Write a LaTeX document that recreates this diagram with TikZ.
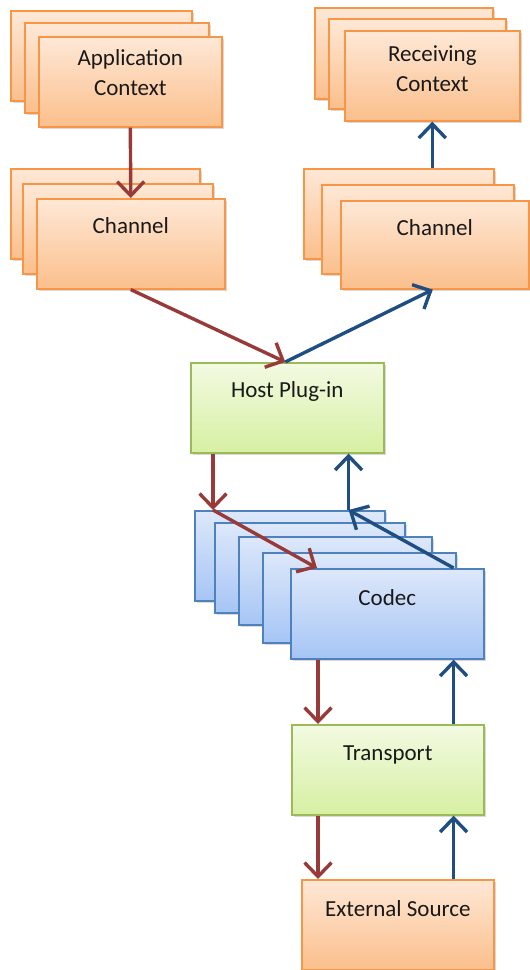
\documentclass[tikz,border=0pt]{standalone}
\usepackage{fontspec}
\setmainfont{Carlito}
\usetikzlibrary{arrows.meta,shadows}
\definecolor{orBd}{HTML}{F79646}
\definecolor{orTop}{HTML}{FEE8D6}
\definecolor{orBot}{HTML}{FBBF8C}
\definecolor{grBd}{HTML}{9BBB59}
\definecolor{grTop}{HTML}{F3FAE2}
\definecolor{grBot}{HTML}{D6F0A2}
\definecolor{blBd}{HTML}{4F81BD}
\definecolor{blTop}{HTML}{DDE8FA}
\definecolor{blBot}{HTML}{A6C5F5}
\definecolor{arRed}{HTML}{983A38}
\definecolor{arBlue}{HTML}{1F4E83}
\tikzset{
  box/.style={rectangle, inner sep=0pt, line width=1.6pt, anchor=north west,
    drop shadow={shadow xshift=1.8pt, shadow yshift=-2pt, opacity=0.3}},
  obox/.style={box, draw=orBd, top color=orTop, bottom color=orBot},
  gbox/.style={box, draw=grBd, top color=grTop, bottom color=grBot},
  bbox/.style={box, draw=blBd, top color=blTop, bottom color=blBot},
  txt/.style={font=\fontsize{23}{30}\selectfont, text=black!90, inner sep=0pt, align=center},
  redarr/.style={draw=arRed, line width=3.4pt, -{Straight Barb[length=14pt,width=27pt]}},
  bluarr/.style={draw=arBlue, line width=3.4pt, -{Straight Barb[length=14pt,width=27pt]}},
}
\begin{document}
\begin{tikzpicture}[x=1pt,y=-1pt]
\useasboundingbox (0,0) rectangle (530,970);
% Application Context stack
\node[obox, minimum width=181pt, minimum height=90pt] (apB) at (10,10) {};
\node[obox, minimum width=184pt, minimum height=90pt] (apM) at (24,22) {};
\node[obox, minimum width=183pt, minimum height=90pt] (apF) at (38,36) {};
\node[txt, anchor=base] (apT) at ([yshift=-59pt]apF.north) {Application\\Context};
% Channel left
\node[obox, minimum width=189pt, minimum height=90pt] (chLB) at (10,168) {};
\node[obox, minimum width=190pt, minimum height=90pt] (chLM) at (22,183) {};
\node[obox, minimum width=188pt, minimum height=90pt] (chLF) at (36,198) {};
\node[txt, anchor=base] (chLT) at ([yshift=-35pt]chLF.north) {Channel};
% Receiving Context stack
\node[obox, minimum width=178pt, minimum height=91pt] (rcB) at (314,7) {};
\node[obox, minimum width=177pt, minimum height=90pt] (rcM) at (328,18) {};
\node[obox, minimum width=175pt, minimum height=90pt] (rcF) at (344,30) {};
\node[txt, anchor=base] (rcT) at ([yshift=-61pt]rcF.north) {Receiving\\Context};
% Channel right
\node[obox, minimum width=190pt, minimum height=90pt] (chRB) at (303,168) {};
\node[obox, minimum width=192pt, minimum height=89pt] (chRM) at (321,184) {};
\node[obox, minimum width=188pt, minimum height=88pt] (chRF) at (340,200) {};
\node[txt, anchor=base] (chRT) at ([yshift=-35pt]chRF.north) {Channel};
% Host Plug-in
\node[gbox, minimum width=193pt, minimum height=90pt] (host) at (190,362) {};
\node[txt, anchor=base] (hostT) at ([yshift=-35pt]host.north) {Host Plug-in};
% Codec stack
\node[bbox, minimum width=190pt, minimum height=90pt] (cd1) at (194,510) {};
\node[bbox, minimum width=190pt, minimum height=90pt] (cd2) at (214,522) {};
\node[bbox, minimum width=193pt, minimum height=88pt] (cd3) at (238,536) {};
\node[bbox, minimum width=193pt, minimum height=90pt] (cd4) at (262,552) {};
\node[bbox, minimum width=193pt, minimum height=90pt] (cd5) at (290,568) {};
\node[txt, anchor=base] (cdT) at ([yshift=-37pt]cd5.north) {Codec};
% Transport
\node[gbox, minimum width=192pt, minimum height=90pt] (tr) at (291,724) {};
\node[txt, anchor=base] (trT) at ([yshift=-36pt]tr.north) {Transport};
% External Source
\node[obox, minimum width=192pt, minimum height=90pt] (ext) at (301,879) {};
\node[txt, anchor=base] (extT) at ([yshift=-37pt]ext.north) {External Source};
% connectors
\draw[redarr] (apF.south) -- (chLF.north);
\coordinate (rcIn) at (rcF.south |- chRB.north);
\draw[bluarr] (rcIn) -- (rcF.south);
\draw[redarr] (chLF.south) -- ([xshift=-2pt]host.north);
\draw[bluarr] ([xshift=-2pt]host.north) -- ([xshift=-2pt]chRF.south);
\coordinate (hs1) at ([xshift=23pt]host.south west);
\coordinate (c1) at (hs1 |- cd1.north);
\coordinate (c5r) at ([xshift=27pt]cd5.north west);
\coordinate (c5b) at ([xshift=-31pt]cd5.north east);
\coordinate (hs2) at ([xshift=-36pt]host.south east);
\coordinate (c2) at (hs2 |- cd1.north);
\draw[redarr] (hs1) -- (c1);
\draw[redarr] (c1) -- (c5r);
\draw[bluarr] (c5b) -- (c2);
\draw[bluarr] (c2) -- (hs2);
\coordinate (cdr) at ([xshift=28pt]cd5.south west);
\coordinate (cdb) at ([xshift=-31pt]cd5.south east);
\coordinate (trIn) at (cdr |- tr.north);
\coordinate (trOut) at (cdb |- tr.north);
\draw[redarr] (cdr) -- (trIn);
\draw[bluarr] (trOut) -- (cdb);
\coordinate (trr) at ([xshift=27pt]tr.south west);
\coordinate (trb) at ([xshift=-31pt]tr.south east);
\coordinate (exIn) at (trr |- ext.north);
\coordinate (exOut) at (trb |- ext.north);
\draw[redarr] (trr) -- (exIn);
\draw[bluarr] (exOut) -- (trb);
\end{tikzpicture}
\end{document}
